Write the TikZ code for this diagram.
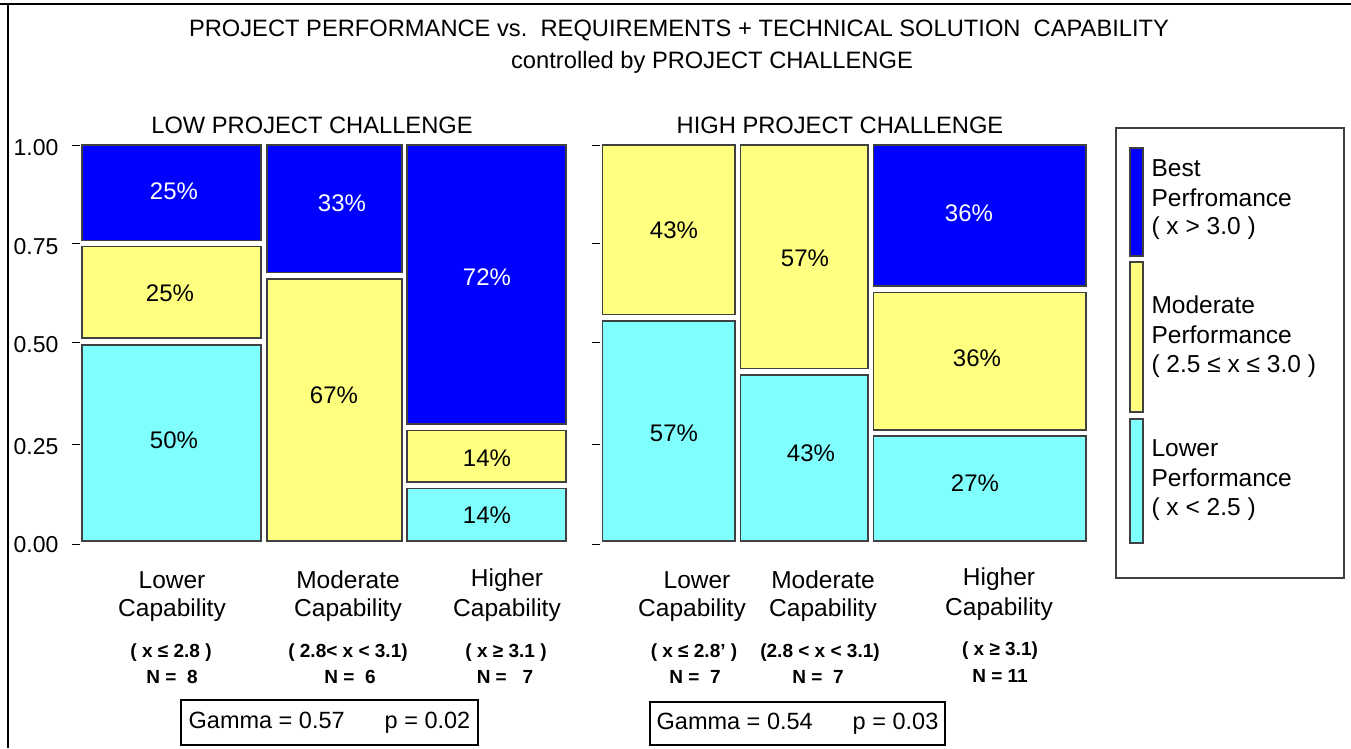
\documentclass[tikz,border=0pt]{standalone}
\usepackage{fontspec}
\setmainfont{Liberation Sans}
\definecolor{cblue}{HTML}{0000FF}
\definecolor{cyel}{HTML}{FFFF80}
\definecolor{ccyan}{HTML}{80FFFF}
\definecolor{edge}{HTML}{404040}
\tikzset{
  seg/.style={draw=edge,line width=1.5pt},
  pct/.style={font=\fontsize{24}{27}\selectfont},
  wpct/.style={pct,text=white},
  tick/.style={line width=1pt},
  ticklab/.style={anchor=east,font=\fontsize{23}{26}\selectfont},
  cat/.style={font=\fontsize{24.5}{28}\selectfont},
  rng/.style={font=\bfseries\fontsize{19}{22}\selectfont},
  ttl/.style={font=\fontsize{23.7}{27}\selectfont},
  leg/.style={anchor=west,font=\fontsize{24.5}{28}\selectfont},
  gbox/.style={draw=black,line width=1.2pt,inner sep=0pt,font=\fontsize{23.5}{27}\selectfont}
}
\begin{document}
\begin{tikzpicture}[x=1pt,y=-1pt]
\useasboundingbox (0,0) rectangle (1351,748);
\fill[white] (0,0) rectangle (1351,748);
% frame
\draw[line width=2pt] (0,4) -- (1351,4);
\draw[line width=2pt] (8,4) -- (8,748);
% titles
\node[ttl] (t1) at (679,30) {PROJECT PERFORMANCE vs.\ \ REQUIREMENTS + TECHNICAL SOLUTION\ \ CAPABILITY};
\node[ttl] (t2) at (712,62) {controlled by PROJECT CHALLENGE};
\node[ttl] (tl) at (312,125) {LOW PROJECT CHALLENGE};
\node[ttl] (th) at (840,125) {HIGH PROJECT CHALLENGE};
% axis
\foreach \y/\t/\ly in {145/1.00/148,243/0.75/247,342/0.50/345,444/0.25/447,544/0.00/545}{
  \draw[tick] (72,\y) -- (80,\y);
  \node[ticklab] at (62,\ly) {\t};
}
\foreach \y in {145,243,342,444,544}{\draw[tick] (592,\y) -- (600,\y);}
% left panel
\filldraw[seg,fill=cblue] (82,145) rectangle (261,240.7);
\filldraw[seg,fill=cyel] (82,246.7) rectangle (261,338);
\filldraw[seg,fill=ccyan] (82,345) rectangle (261,541);
\filldraw[seg,fill=cblue] (267,145) rectangle (402,272.3);
\filldraw[seg,fill=cyel] (267,279) rectangle (402,541);
\filldraw[seg,fill=cblue] (407,145) rectangle (566,424);
\filldraw[seg,fill=cyel] (407,430.7) rectangle (566,482);
\filldraw[seg,fill=ccyan] (407,488.7) rectangle (566,541);
\node[wpct] (l1b) at (174,191) {25\%};
\node[pct] (l1y) at (170,293) {25\%};
\node[pct] (l1c) at (174,440) {50\%};
\node[wpct] (l2b) at (342,203) {33\%};
\node[pct] (l2y) at (334,395) {67\%};
\node[wpct] (l3b) at (487,277) {72\%};
\node[pct] (l3y) at (487,458) {14\%};
\node[pct] (l3c) at (487,515) {14\%};
% right panel
\filldraw[seg,fill=cyel] (602.7,145) rectangle (735,314.3);
\filldraw[seg,fill=ccyan] (602.7,321) rectangle (735,541);
\filldraw[seg,fill=cyel] (740.4,145) rectangle (868.2,368.3);
\filldraw[seg,fill=ccyan] (740.4,375) rectangle (868.2,541);
\filldraw[seg,fill=cblue] (873.7,145) rectangle (1085.8,286);
\filldraw[seg,fill=cyel] (873.7,292.7) rectangle (1085.8,430);
\filldraw[seg,fill=ccyan] (873.7,436) rectangle (1085.8,541);
\node[pct] (r1y) at (674,230) {43\%};
\node[pct] (r1c) at (674,433) {57\%};
\node[pct] (r2y) at (805,258) {57\%};
\node[pct] (r2c) at (811,453) {43\%};
\node[wpct] (r3b) at (969,213) {36\%};
\node[pct] (r3y) at (977,358) {36\%};
\node[pct] (r3c) at (975,483) {27\%};
% category labels left
\node[cat] (a1) at (172,580) {Lower};
\node[cat] (a2) at (172,610) {Capability};
\node[cat] (a3) at (348,580) {Moderate};
\node[cat] (a4) at (348,610) {Capability};
\node[cat] (a5) at (507,580) {Higher};
\node[cat] (a6) at (507,610) {Capability};
\node[rng] (b1) at (171,653) {( x ≤ 2.8 )};
\node[rng] (b2) at (172,677) {N =\ \ 8};
\node[rng] (b3) at (348,653) {( 2.8< x < 3.1)};
\node[rng] (b4) at (350,677) {N =\ \ 6};
\node[rng] (b5) at (506,653) {( x ≥ 3.1 )};
\node[rng] (b6) at (505,677) {N =\ \ \ 7};
% category labels right
\node[cat] (c1) at (697,580) {Lower};
\node[cat] (c2) at (692,610) {Capability};
\node[cat] (c3) at (823,580) {Moderate};
\node[cat] (c4) at (823,610) {Capability};
\node[cat] (c5) at (999,579) {Higher};
\node[cat] (c6) at (999,609) {Capability};
\node[rng] (d1) at (694,653) {( x ≤ 2.8' )};
\node[rng] (d2) at (695,677) {N =\ \ 7};
\node[rng] (d3) at (820,653) {(2.8 < x < 3.1)};
\node[rng] (d4) at (818,677) {N =\ \ 7};
\node[rng] (d5) at (1000,651) {( x ≥ 3.1)};
\node[rng] (d6) at (1000,676) {N = 11};
% gamma boxes
\node[gbox,minimum width=297pt,minimum height=45pt] (g1) at (329.5,722.5) {Gamma = 0.57\hspace{40pt}p = 0.02};
\node[gbox,minimum width=295pt,minimum height=43pt] (g2) at (797.5,723.5) {Gamma = 0.54\hspace{40pt}p = 0.03};
% legend
\draw[line width=2pt,draw=edge] (1116,128) rectangle (1344,578);
\filldraw[seg,fill=cblue] (1130,148) rectangle (1143,256);
\filldraw[seg,fill=cyel] (1130,262) rectangle (1143,412);
\filldraw[seg,fill=ccyan] (1130,419) rectangle (1143,543);
\node[leg] (e1) at (1148,168) {Best};
\node[leg] (e2) at (1148,198) {Perfromance};
\node[leg] (e3) at (1148,228) {( x > 3.0 )};
\node[leg] (e4) at (1148,305) {Moderate};
\node[leg] (e5) at (1148,335) {Performance};
\node[leg] (e6) at (1148,366) {( 2.5 ≤ x ≤ 3.0 )};
\node[leg] (e7) at (1148,448) {Lower};
\node[leg] (e8) at (1148,478) {Performance};
\node[leg] (e9) at (1148,509) {( x < 2.5 )};
\end{tikzpicture}
\end{document}
